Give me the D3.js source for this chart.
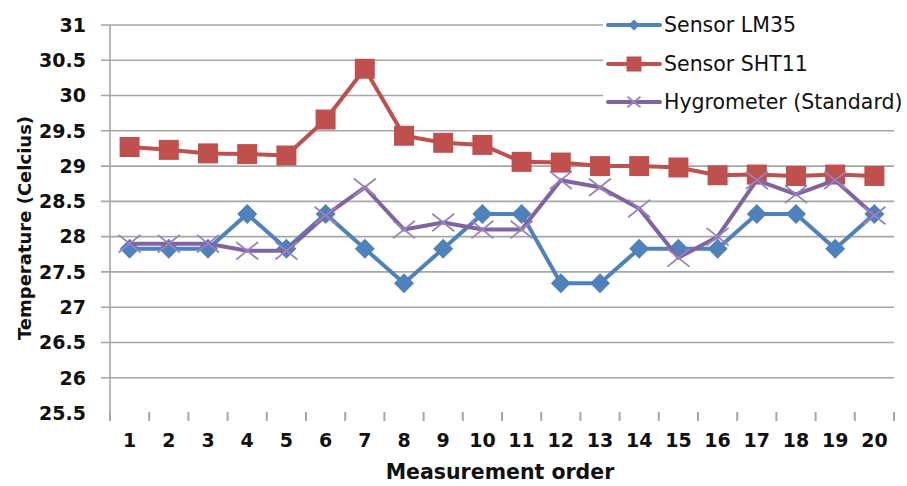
<!DOCTYPE html>
<html>
<head>
<meta charset="utf-8">
<script src="https://cdn.jsdelivr.net/npm/d3@7"></script>
<style>
  body { margin: 0; background: #fff; }
  svg { display: block; font-family: "DejaVu Sans", sans-serif; }
  .tick-lbl { font-weight: bold; font-size: 19px; fill: #111; }
  .axis-title { font-weight: bold; font-size: 18px; fill: #111; }
  .legend-lbl { font-size: 20.5px; fill: #111; }
</style>
</head>
<body>
<svg id="chart" width="907" height="486"></svg>
<script>
/* ---------- Data ---------- */
const order = d3.range(1, 21);
const lm35 = [27.83, 27.83, 27.83, 28.32, 27.83, 28.32, 27.83, 27.34, 27.83, 28.32,
              28.32, 27.34, 27.34, 27.83, 27.83, 27.83, 28.32, 28.32, 27.83, 28.32];
const sht11 = [29.27, 29.23, 29.18, 29.17, 29.15, 29.66, 30.38, 29.43, 29.33, 29.3,
               29.06, 29.05, 29.0, 29.0, 28.98, 28.87, 28.88, 28.86, 28.88, 28.86];
const hygro = [27.9, 27.9, 27.9, 27.8, 27.8, 28.3, 28.7, 28.1, 28.2, 28.1,
               28.1, 28.8, 28.7, 28.4, 27.7, 28.0, 28.8, 28.6, 28.8, 28.3];
const yTicks = d3.range(25.5, 31.01, 0.5);
const seriesNames = ["Sensor LM35", "Sensor SHT11", "Hygrometer (Standard)"];

const series = [
    {name: seriesNames[0], values: lm35, color: "#4f81bd", marker: "diamond"},
    {name: seriesNames[1], values: sht11, color: "#c0504d", marker: "square"},
    {name: seriesNames[2], values: hygro, color: "#8064a2", marker: "cross"},
];

/* ---------- Layout ---------- */
const svg = d3.select("#chart");
const plot = {left: 110, right: 894, top: 25, bottom: 413};

const x = d3.scaleBand().domain(order).range([plot.left, plot.right]);
const y = d3.scaleLinear().domain([25.5, 31]).range([plot.bottom, plot.top]);
const cx = d => x(d) + x.bandwidth() / 2;

/* ---------- Grid & axes ---------- */
svg.append("g").selectAll("line")
    .data(yTicks.filter(t => t > 25.5))
    .join("line")
    .attr("x1", plot.left - 9).attr("x2", plot.right)
    .attr("y1", d => y(d)).attr("y2", d => y(d))
    .attr("stroke", "#a6a6a6").attr("stroke-width", 1.6);

// y axis line
svg.append("line")
    .attr("x1", plot.left).attr("x2", plot.left)
    .attr("y1", plot.top).attr("y2", plot.bottom)
    .attr("stroke", "#a6a6a6").attr("stroke-width", 1.6);

svg.append("g").selectAll("text")
    .data(yTicks)
    .join("text")
    .attr("class", "tick-lbl")
    .attr("x", 86).attr("y", d => y(d))
    .attr("dy", "0.36em")
    .attr("text-anchor", "end")
    .text(d => d3.format("")(d));

// x tick marks only, Excel hides the category axis line here
const bounds = order.map(d => x(d)).concat([plot.right]);
svg.append("g").selectAll("line")
    .data(bounds)
    .join("line")
    .attr("x1", d => d).attr("x2", d => d)
    .attr("y1", plot.bottom - 1).attr("y2", plot.bottom + 8)
    .attr("stroke", "#a6a6a6").attr("stroke-width", 2);

svg.append("g").selectAll("text")
    .data(order)
    .join("text")
    .attr("class", "tick-lbl")
    .attr("x", cx)
    .attr("y", 447)
    .attr("text-anchor", "middle")
    .text(d => d);

svg.append("text").attr("class", "axis-title")
    .attr("x", 500).attr("y", 479)
    .attr("text-anchor", "middle")
    .style("font-size", "20.5px")
    .text("Measurement order");

svg.append("text").attr("class", "axis-title")
    .attr("transform", "translate(31,228) rotate(-90)")
    .attr("text-anchor", "middle")
    .text("Temperature (Celcius)");

/* ---------- Markers ---------- */
function drawMarker(g, type, color, mx, my, s) {
    if (type === "diamond") {
        g.append("path")
            .attr("d", `M${mx},${my - s / 2}L${mx + s / 2},${my}L${mx},${my + s / 2}L${mx - s / 2},${my}Z`)
            .attr("fill", color);
    } else if (type === "square") {
        g.append("rect")
            .attr("x", mx - s / 2).attr("y", my - s / 2)
            .attr("width", s).attr("height", s)
            .attr("fill", color);
    } else {
        const h = s / 2;
        g.append("path")
            .attr("d", `M${mx - h},${my - h * 0.8}L${mx + h},${my + h * 0.8}M${mx - h},${my + h * 0.8}L${mx + h},${my - h * 0.8}`)
            .attr("stroke", "#9a82bd").attr("stroke-width", 1.8).attr("fill", "none");
    }
}

const line = d3.line()
    .x((d, i) => cx(order[i]))
    .y(d => y(d));

series.forEach(s => {
    const g = svg.append("g");
    g.append("path")
        .attr("d", line(s.values))
        .attr("fill", "none")
        .attr("stroke", s.color)
        .attr("stroke-width", 4)
        .attr("stroke-linejoin", "round");
    const size = s.marker === "square" ? 20 : s.marker === "diamond" ? 20 : 22;
    s.values.forEach((v, i) => drawMarker(g, s.marker, s.color, cx(order[i]), y(v), size));
});

/* ---------- Legend ---------- */
const lg = svg.append("g");
lg.append("rect").attr("x", 603).attr("y", 0).attr("width", 304).attr("height", 118).attr("fill", "#fff");
const legendY = [25, 64, 102];
series.forEach((s, i) => {
    const ly = legendY[i];
    lg.append("line")
        .attr("x1", 608).attr("x2", 660)
        .attr("y1", ly).attr("y2", ly)
        .attr("stroke", s.color).attr("stroke-width", 4).attr("stroke-linecap", "round");
    const size = s.marker === "square" ? 15 : s.marker === "diamond" ? 11 : 13;
    drawMarker(lg, s.marker, s.color, 634, ly, size);
    lg.append("text").attr("class", "legend-lbl")
        .attr("x", 664).attr("y", ly).attr("dy", "0.36em")
        .text(s.name);
});
</script>
</body>
</html>
